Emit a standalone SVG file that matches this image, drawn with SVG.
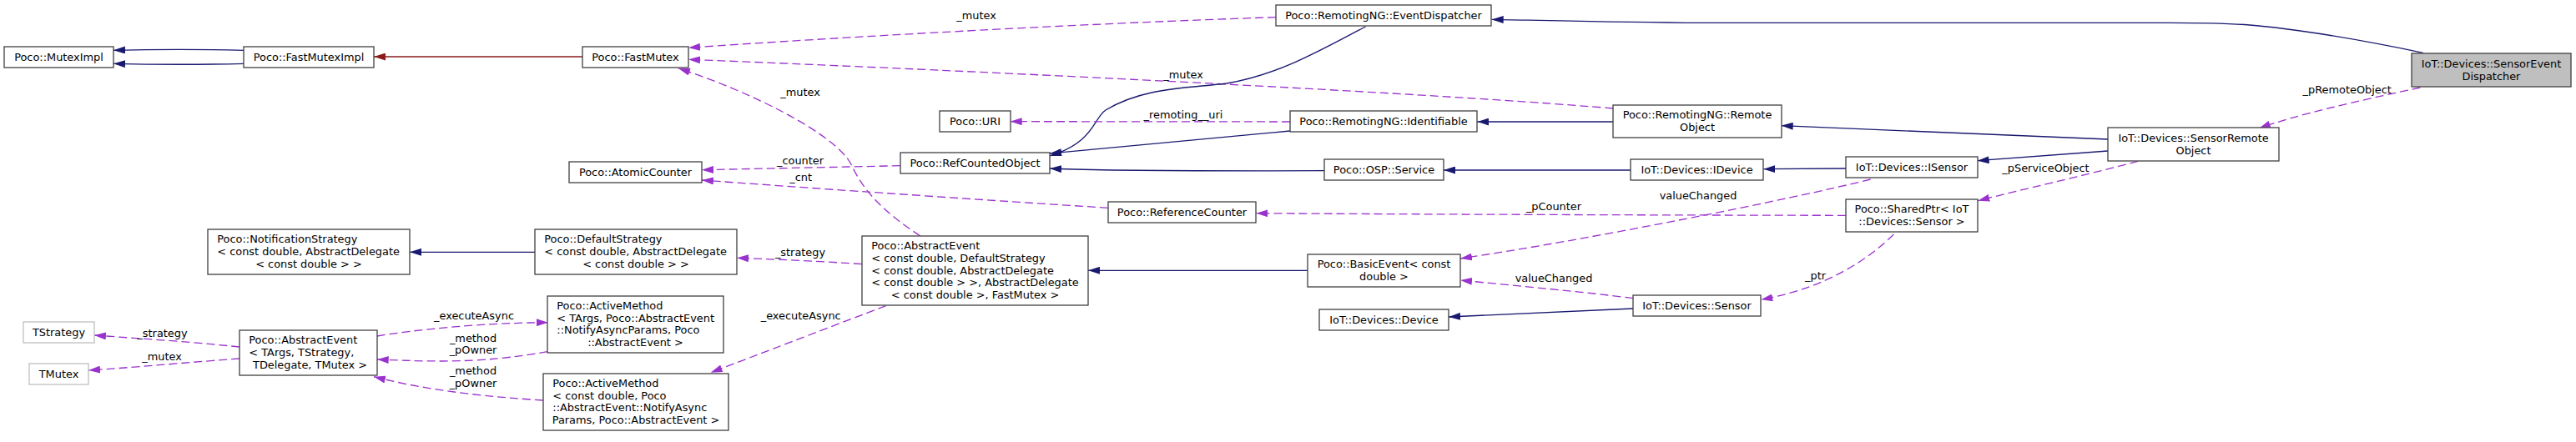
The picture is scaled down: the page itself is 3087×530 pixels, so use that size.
<svg xmlns="http://www.w3.org/2000/svg" width="3087" height="530" viewBox="0 0 3087 530">
<style>
.node rect{fill:#fff;stroke:#404040;stroke-width:1.3}
.node.grey rect{stroke:#bfbfbf}
.node.main rect{fill:#bfbfbf}
text{font-family:"DejaVu Sans",sans-serif;font-size:12.9px;fill:#000}
.c{text-anchor:middle}
.inh{fill:none;stroke:#191970;stroke-width:1.3}
.red{fill:none;stroke:#8b1a1a;stroke-width:1.3}
.use{fill:none;stroke:#9a32cd;stroke-width:1.3;stroke-dasharray:10,5}
</style>
<defs>
<marker id="ah-blue" viewBox="0 0 14 9" refX="14" refY="4.5" markerWidth="14" markerHeight="9" orient="auto" markerUnits="userSpaceOnUse"><path d="M0,0 L14,4.5 L0,9 z" fill="#191970"/></marker>
<marker id="ah-red" viewBox="0 0 14 9" refX="14" refY="4.5" markerWidth="14" markerHeight="9" orient="auto" markerUnits="userSpaceOnUse"><path d="M0,0 L14,4.5 L0,9 z" fill="#8b1a1a"/></marker>
<marker id="ah-purple" viewBox="0 0 14 9" refX="14" refY="4.5" markerWidth="14" markerHeight="9" orient="auto" markerUnits="userSpaceOnUse"><path d="M0,0 L14,4.5 L0,9 z" fill="#9a32cd"/></marker>
</defs>
<rect width="3087" height="530" fill="#fff"/>
<g id="connectors">
<path class="inh" marker-end="url(#ah-blue)" d="M292,60.3 C240,59 190,59 136,60.3"/>
<path class="inh" marker-end="url(#ah-blue)" d="M292,76.3 C240,77.6 190,77.6 136,76.3"/>
<path class="red" marker-end="url(#ah-red)" d="M698,68 L448,68"/>
<path class="inh" marker-end="url(#ah-blue)" d="M641,302.3 L491,302.3"/>
<path class="use" marker-end="url(#ah-purple)" d="M1033,316.7 C980,313 930,311 883,309.3"/>
<path class="use" marker-end="url(#ah-purple)" d="M287,416 C230,410 170,406 113,402"/>
<path class="use" marker-end="url(#ah-purple)" d="M287,430 C230,434 170,440 106,444"/>
<path class="use" marker-end="url(#ah-purple)" d="M452,403 C500,395 580,387 656.7,386.7"/>
<path class="use" marker-end="url(#ah-purple)" d="M656,421.7 C620,428 580,433 530,433 C500,433 480,432 451.7,431"/>
<path class="use" marker-end="url(#ah-purple)" d="M650.7,480 C590,476 520,470 448,451.7"/>
<path class="use" marker-end="url(#ah-purple)" d="M1061.7,366.7 C1000,390 930,417 851.7,446.7"/>
<path class="use" marker-end="url(#ah-purple)" d="M1103,283 C1060,255 1035,230 1020,197 C1000,160 900,110 813,82"/>
<path class="use" marker-end="url(#ah-purple)" d="M1529,20.7 C1300,28 1000,45 825,57.3"/>
<path class="use" marker-end="url(#ah-purple)" d="M1933,130 C1700,110 1100,82 825,71.3"/>
<path class="inh" marker-end="url(#ah-blue)" d="M1636.7,31.7 C1580,62 1530,90 1470,100 C1420,106 1370,105 1325,132 C1310,142 1312,170 1258,187"/>
<path class="inh" marker-end="url(#ah-blue)" d="M1546,157 L1258,184"/>
<path class="inh" marker-end="url(#ah-blue)" d="M1587,204.7 C1450,205 1300,204 1258,202"/>
<path class="use" marker-end="url(#ah-purple)" d="M1546,146 L1210.7,145.7"/>
<path class="inh" marker-end="url(#ah-blue)" d="M1933,146 L1770.3,146"/>
<path class="inh" marker-end="url(#ah-blue)" d="M1954,204 L1730,204"/>
<path class="inh" marker-end="url(#ah-blue)" d="M2212,202 L2113.3,202.7"/>
<path class="use" marker-end="url(#ah-purple)" d="M1078.7,198.7 L841,203.7"/>
<path class="use" marker-end="url(#ah-purple)" d="M1327.7,249.3 C1150,238 950,224 841,216"/>
<path class="use" marker-end="url(#ah-purple)" d="M2211.7,258.3 C2000,258 1700,257 1505.3,255.7"/>
<path class="use" marker-end="url(#ah-purple)" d="M2241.7,215 C2150,238 1900,288 1750,310"/>
<path class="use" marker-end="url(#ah-purple)" d="M1957,357.7 C1900,350 1820,343 1750,336"/>
<path class="inh" marker-end="url(#ah-blue)" d="M1957,370 L1736,380"/>
<path class="inh" marker-end="url(#ah-blue)" d="M1566.7,324.3 L1304,324.3"/>
<path class="use" marker-end="url(#ah-purple)" d="M2269.3,281 C2240,310 2190,345 2110.3,359.3"/>
<path class="use" marker-end="url(#ah-purple)" d="M2562,193.3 C2500,210 2420,228 2370.3,240.7"/>
<path class="inh" marker-end="url(#ah-blue)" d="M2526,167 L2134.7,150.7"/>
<path class="inh" marker-end="url(#ah-blue)" d="M2526,181 L2369.7,192.7"/>
<path class="inh" marker-end="url(#ah-blue)" d="M2903.7,63.3 C2840,50 2760,35 2690,29.5 C2660,27.7 2640,27.3 2600,27.3 L2020,27.3 C1900,26 1830,24 1787.7,23.3"/>
<path class="use" marker-end="url(#ah-purple)" d="M2900.3,105 C2830,120 2750,138 2707,154"/>
<text class="c" x="194.5" y="404">_strategy</text>
<text class="c" x="194" y="431.5">_mutex</text>
<text class="c" x="568" y="383">_executeAsync</text>
<text class="c" x="567" y="409.5">_method</text>
<text class="c" x="567" y="424">_pOwner</text>
<text class="c" x="567" y="449">_method</text>
<text class="c" x="567" y="463.7">_pOwner</text>
<text class="c" x="959" y="115">_mutex</text>
<text class="c" x="959" y="196.7">_counter</text>
<text class="c" x="959.7" y="217.3">_cnt</text>
<text class="c" x="959" y="306.7">_strategy</text>
<text class="c" x="959.7" y="382.7">_executeAsync</text>
<text class="c" x="1170" y="23.3">_mutex</text>
<text class="c" x="1418" y="94.3">_mutex</text>
<text class="c" x="1418" y="141.7">_remoting__uri</text>
<text class="c" x="1862" y="252.3">_pCounter</text>
<text class="c" x="2035" y="239.3">valueChanged</text>
<text class="c" x="1862" y="337.7">valueChanged</text>
<text class="c" x="2175.5" y="335">_ptr</text>
<text class="c" x="2451.5" y="206">_pServiceObject</text>
<text class="c" x="2812.7" y="111.7">_pRemoteObject</text>
</g>
<g id="n_mutex_impl" class="node"><rect x="5" y="56" width="131" height="25"/><text class="c" x="70.5" y="72.8">Poco::MutexImpl</text></g>
<g id="n_fastmutex_impl" class="node"><rect x="292" y="56" width="156" height="25"/><text class="c" x="370" y="72.8">Poco::FastMutexImpl</text></g>
<g id="n_fastmutex" class="node"><rect x="698" y="56" width="127" height="25"/><text class="c" x="761.5" y="72.8">Poco::FastMutex</text></g>
<g id="n_event_dispatcher" class="node"><rect x="1529" y="6" width="258" height="25"/><text class="c" x="1658" y="22.8">Poco::RemotingNG::EventDispatcher</text></g>
<g id="n_sensor_event_dispatcher" class="node main"><rect x="2890" y="64" width="191" height="40"/><text class="c" x="2985.5" y="81">IoT::Devices::SensorEvent</text><text class="c" x="2985.5" y="95.5">Dispatcher</text></g>
<g id="n_uri" class="node"><rect x="1126" y="133" width="85" height="25"/><text class="c" x="1168.5" y="149.8">Poco::URI</text></g>
<g id="n_identifiable" class="node"><rect x="1546" y="133" width="224" height="25"/><text class="c" x="1658" y="149.8">Poco::RemotingNG::Identifiable</text></g>
<g id="n_remote_object" class="node"><rect x="1933" y="126" width="202" height="39"/><text class="c" x="2034" y="142.2">Poco::RemotingNG::Remote</text><text class="c" x="2034" y="156.9">Object</text></g>
<g id="n_sensor_remote_object" class="node"><rect x="2526" y="153" width="205" height="40"/><text class="c" x="2628.5" y="170.3">IoT::Devices::SensorRemote</text><text class="c" x="2628.5" y="185">Object</text></g>
<g id="n_atomic_counter" class="node"><rect x="682" y="194" width="159" height="25"/><text class="c" x="761.5" y="210.8">Poco::AtomicCounter</text></g>
<g id="n_refcounted_object" class="node"><rect x="1079" y="183" width="179" height="25"/><text class="c" x="1168.5" y="199.8">Poco::RefCountedObject</text></g>
<g id="n_osp_service" class="node"><rect x="1587" y="191" width="143" height="25"/><text class="c" x="1658.5" y="207.8">Poco::OSP::Service</text></g>
<g id="n_idevice" class="node"><rect x="1954" y="191" width="159" height="25"/><text class="c" x="2033.5" y="207.8">IoT::Devices::IDevice</text></g>
<g id="n_isensor" class="node"><rect x="2212" y="188" width="158" height="25"/><text class="c" x="2291" y="204.8">IoT::Devices::ISensor</text></g>
<g id="n_reference_counter" class="node"><rect x="1328" y="242" width="177" height="25"/><text class="c" x="1416.5" y="258.8">Poco::ReferenceCounter</text></g>
<g id="n_shared_ptr" class="node"><rect x="2212" y="239" width="158" height="39"/><text class="c" x="2291" y="255.2">Poco::SharedPtr&lt; IoT</text><text class="c" x="2291" y="269.9">::Devices::Sensor &gt;</text></g>
<g id="n_notification_strategy" class="node"><rect x="249" y="275" width="242" height="54"/><text x="260.3" y="291.3">Poco::NotificationStrategy</text><text x="260.3" y="306">&lt; const double, AbstractDelegate</text><text class="c" x="370" y="320.7">&lt; const double &gt; &gt;</text></g>
<g id="n_default_strategy" class="node"><rect x="641" y="275" width="242" height="54"/><text x="652.3" y="291.3">Poco::DefaultStrategy</text><text x="652.3" y="306">&lt; const double, AbstractDelegate</text><text class="c" x="762" y="320.7">&lt; const double &gt; &gt;</text></g>
<g id="n_abstract_event_double" class="node"><rect x="1033" y="283" width="271" height="83"/><text x="1044.3" y="299.1">Poco::AbstractEvent</text><text x="1044.3" y="313.8">&lt; const double, DefaultStrategy</text><text x="1044.3" y="328.5">&lt; const double, AbstractDelegate</text><text x="1044.3" y="343.2">&lt; const double &gt; &gt;, AbstractDelegate</text><text class="c" x="1168.5" y="357.9">&lt; const double &gt;, FastMutex &gt;</text></g>
<g id="n_basic_event" class="node"><rect x="1567" y="305" width="183" height="39"/><text class="c" x="1658.5" y="321.2">Poco::BasicEvent&lt; const</text><text class="c" x="1658.5" y="335.9">double &gt;</text></g>
<g id="n_device" class="node"><rect x="1581" y="371" width="155" height="25"/><text class="c" x="1658.5" y="387.8">IoT::Devices::Device</text></g>
<g id="n_sensor" class="node"><rect x="1957" y="354" width="153" height="25"/><text class="c" x="2033.5" y="370.8">IoT::Devices::Sensor</text></g>
<g id="n_active_method_1" class="node"><rect x="656" y="355" width="211" height="68"/><text x="667.3" y="371">Poco::ActiveMethod</text><text x="667.3" y="385.7">&lt; TArgs, Poco::AbstractEvent</text><text x="667.3" y="400.4">::NotifyAsyncParams, Poco</text><text class="c" x="761.5" y="415.1">::AbstractEvent &gt;</text></g>
<g id="n_active_method_2" class="node"><rect x="651" y="448" width="222" height="68"/><text x="662.3" y="464">Poco::ActiveMethod</text><text x="662.3" y="478.7">&lt; const double, Poco</text><text x="662.3" y="493.4">::AbstractEvent::NotifyAsync</text><text class="c" x="762" y="508.1">Params, Poco::AbstractEvent &gt;</text></g>
<g id="n_tstrategy" class="node grey"><rect x="28" y="386" width="85" height="25"/><text class="c" x="70.5" y="402.8">TStrategy</text></g>
<g id="n_tmutex" class="node grey"><rect x="35" y="436" width="71" height="25"/><text class="c" x="70.5" y="452.8">TMutex</text></g>
<g id="n_abstract_event_t" class="node"><rect x="287" y="396" width="165" height="54"/><text x="298.3" y="412.3">Poco::AbstractEvent</text><text x="298.3" y="427">&lt; TArgs, TStrategy,</text><text class="c" x="371.5" y="441.7">TDelegate, TMutex &gt;</text></g>
</svg>
